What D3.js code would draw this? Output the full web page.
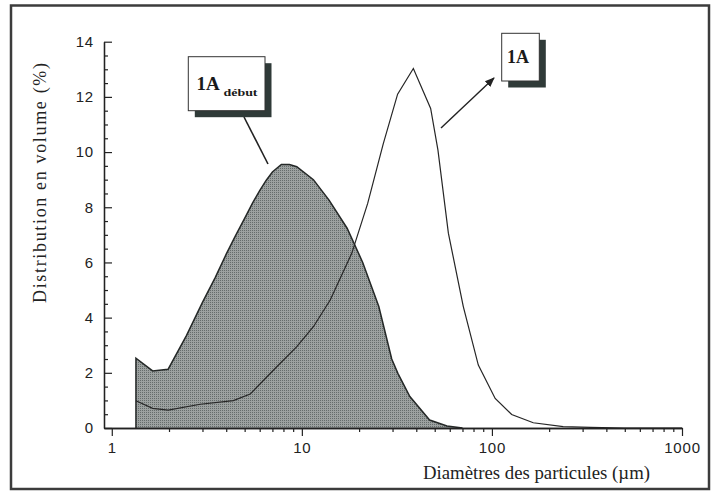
<!DOCTYPE html>
<html>
<head>
<meta charset="utf-8">
<script src="https://cdn.jsdelivr.net/npm/d3@7"></script>
<style>
  html, body { margin: 0; padding: 0; background: #fff; }
  svg { display: block; }
</style>
</head>
<body>
<svg id="chart" width="712" height="492"></svg>
<script>
// ---- data ----
const debutX = [1.34, 1.64, 1.98, 2.47, 3.0, 3.5, 4.0, 4.5, 5.0, 5.5, 6.0, 6.5, 7.0, 7.8, 8.6, 9.4, 11.5, 13.9, 17.3, 20.9, 25.4, 29.7, 32, 37, 47, 58, 70];
const debutY = [2.53, 2.07, 2.13, 3.35, 4.55, 5.45, 6.3, 7.0, 7.6, 8.15, 8.6, 8.98, 9.28, 9.55, 9.55, 9.47, 9.0, 8.26, 7.24, 6.0, 4.4, 2.5, 1.98, 1.14, 0.29, 0.07, 0];

const finalX = [1.34, 1.64, 1.98, 2.92, 4.36, 5.35, 7.38, 9.41, 11.5, 14.1, 18.3, 22.2, 26.8, 31.9, 38.6, 47.6, 52, 59, 70.7, 84.8, 104, 127, 165, 237, 330, 500, 1000];
const finalY = [0.99, 0.71, 0.65, 0.86, 0.99, 1.23, 2.22, 2.95, 3.67, 4.64, 6.33, 8.14, 10.3, 12.1, 13.03, 11.58, 10.07, 7.06, 4.4, 2.28, 1.07, 0.49, 0.19, 0.05, 0.02, 0.0, 0.0];

const xMajorTicks = [1, 10, 100, 1000];
const xTickLabels = ["1", "10", "100", "1000"];
const xMinorTicks = [2,3,4,5,6,7,8,9,20,30,40,50,60,70,80,90,200,300,400,500,600,700,800,900];
const yMajorTicks = [0, 2, 4, 6, 8, 10, 12, 14];
const yMinorTicks = [0.5,1,1.5,2.5,3,3.5,4.5,5,5.5,6.5,7,7.5,8.5,9,9.5,10.5,11,11.5,12.5,13,13.5];

const xTitle = "Diamètres des particules (µm)";
const yTitle = "Distribution en volume (%)";
const labelDebutMain = "1A";
const labelDebutSub = "début";
const labelFinal = "1A";

// ---- drawing ----
const svg = d3.select("#chart");
const sans = "'Liberation Sans', Arial, Helvetica, sans-serif";
const serif = "'Liberation Serif', 'Times New Roman', Times, serif";

const x = d3.scaleLog().domain([0.91, 1000]).range([104, 682]);
const y = d3.scaleLinear().domain([0, 14]).range([428, 41.7]);

// pattern for stippled fill
const defs = svg.append("defs");
const pat = defs.append("pattern").attr("id", "stip").attr("width", 2).attr("height", 2)
  .attr("patternUnits", "userSpaceOnUse");
pat.append("rect").attr("width", 2).attr("height", 2).attr("fill", "#9ca1a0");
pat.append("rect").attr("width", 1).attr("height", 1).attr("fill", "#656c6b");

defs.append("marker").attr("id", "arrow").attr("viewBox", "0 0 10 10")
  .attr("refX", 9).attr("refY", 5).attr("markerWidth", 7).attr("markerHeight", 7)
  .attr("orient", "auto-start-reverse")
  .append("path").attr("d", "M0,1 L10,5 L0,9 z").attr("fill", "#222");

// frame
svg.append("rect").attr("x", 11).attr("y", 5.5).attr("width", 698).attr("height", 483.5)
  .attr("fill", "#fff").attr("stroke", "#3c3c3c").attr("stroke-width", 2.5);

// shaded area
const debut = debutX.map((d, i) => [d, debutY[i]]);
const fin = finalX.map((d, i) => [d, finalY[i]]);

const area = d3.area().x(d => x(d[0])).y0(y(0)).y1(d => y(d[1]));
svg.append("path").datum(debut).attr("d", area).attr("fill", "url(#stip)");
const line = d3.line().x(d => x(d[0])).y(d => y(d[1]));
svg.append("path").datum([[debutX[0], 0]].concat(debut))
  .attr("d", line).attr("fill", "none").attr("stroke", "#242827").attr("stroke-width", 1.5);
svg.append("path").datum(fin).attr("d", line)
  .attr("fill", "none").attr("stroke", "#262626").attr("stroke-width", 1.2);

// axes
const gx = svg.append("g").attr("transform", `translate(0,${y(0)})`);
gx.call(d3.axisBottom(x).tickValues(xMinorTicks).tickSize(4).tickSizeOuter(0).tickFormat(""));
gx.append("g").call(d3.axisBottom(x).tickValues(xMajorTicks).tickSize(8).tickSizeOuter(0)
  .tickFormat((d, i) => xTickLabels[i]).tickPadding(6));
gx.selectAll("path.domain").attr("stroke", "#222").attr("stroke-width", 1.3);
gx.selectAll("line").attr("stroke", "#222").attr("stroke-width", 1.2);
gx.selectAll("text").attr("font-family", sans).attr("font-size", 15).attr("fill", "#222")
  .attr("letter-spacing", 0.8);

const gy = svg.append("g").attr("transform", `translate(104,0)`);
gy.call(d3.axisLeft(y).tickValues(yMinorTicks).tickSizeInner(-4).tickSizeOuter(0).tickFormat(""));
gy.append("g").call(d3.axisLeft(y).tickValues(yMajorTicks).tickSizeInner(-8).tickSizeOuter(0)
  .tickPadding(10).tickFormat(d3.format("d")));
gy.selectAll("path.domain").attr("stroke", "#222").attr("stroke-width", 1.3);
gy.selectAll("line").attr("stroke", "#222").attr("stroke-width", 1.2);
gy.selectAll("text").attr("font-family", sans).attr("font-size", 15).attr("fill", "#222")
  .attr("letter-spacing", 0.8);

// titles
svg.append("text").attr("x", 423).attr("y", 479).attr("font-family", serif)
  .attr("font-size", 19).attr("fill", "#222").attr("textLength", 227).attr("lengthAdjust", "spacingAndGlyphs")
  .text(xTitle);
svg.append("text").attr("transform", "translate(46,303) rotate(-90)")
  .attr("font-family", serif).attr("font-size", 18).attr("fill", "#222")
  .attr("textLength", 240).attr("lengthAdjust", "spacing").text(yTitle);

// label boxes
function box(bx, by, bw, bh) {
  svg.append("rect").attr("x", bx + 6.5).attr("y", by + 6.5).attr("width", bw).attr("height", bh)
    .attr("fill", "#2f3a38");
  svg.append("rect").attr("x", bx).attr("y", by).attr("width", bw).attr("height", bh)
    .attr("fill", "#fff").attr("stroke", "#333").attr("stroke-width", 1);
}
// leader lines
svg.append("line").attr("x1", 244).attr("y1", 117).attr("x2", 268).attr("y2", 164)
  .attr("stroke", "#222").attr("stroke-width", 1.6);
svg.append("line").attr("x1", 441).attr("y1", 128).attr("x2", 494).attr("y2", 78)
  .attr("stroke", "#222").attr("stroke-width", 1.4).attr("marker-end", "url(#arrow)");

box(188.3, 56.7, 76.7, 54);
svg.append("text").attr("x", 196.5).attr("y", 90).attr("font-family", serif).attr("font-weight", "bold")
  .attr("font-size", 19).attr("fill", "#1a1a1a").text(labelDebutMain);
svg.append("text").attr("x", 223.5).attr("y", 96).attr("font-family", serif).attr("font-weight", "bold")
  .attr("font-size", 10).attr("fill", "#1a1a1a").attr("textLength", 34).attr("lengthAdjust", "spacingAndGlyphs")
  .text(labelDebutSub);

box(501.7, 33.3, 37.6, 47.7);
svg.append("text").attr("x", 507).attr("y", 62.5).attr("font-family", serif).attr("font-weight", "bold")
  .attr("font-size", 18).attr("fill", "#1a1a1a").text(labelFinal);
</script>
</body>
</html>
